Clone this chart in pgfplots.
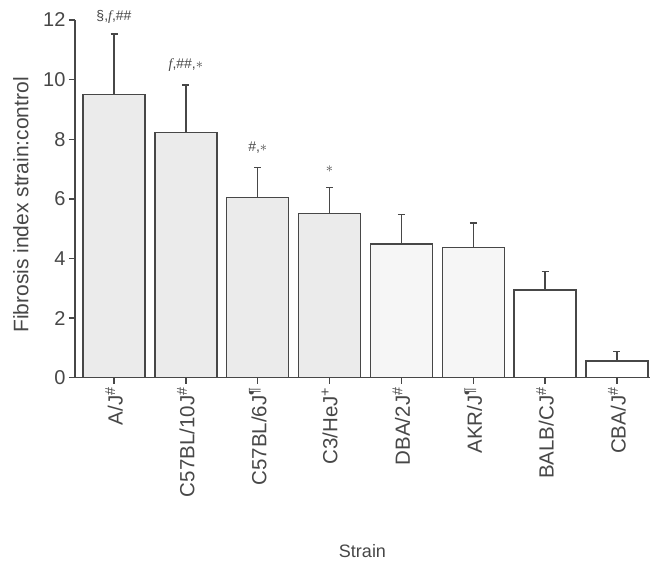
\documentclass[border=0pt]{standalone}
\usepackage{pgfplots}
\pgfplotsset{compat=1.18}
\usepackage{fontspec}
\setmainfont{Liberation Sans}
\newfontfamily\serif{Liberation Serif}
\definecolor{ink}{HTML}{474747}
\definecolor{stip}{HTML}{EBEBEB}
\definecolor{stipb}{HTML}{F6F6F6}
\begin{document}
\begin{tikzpicture}
\useasboundingbox (-75pt,-185.3pt) rectangle (581pt,377.7pt);
\begin{axis}[
  at={(0,0)}, anchor=south west,
  scale only axis, width=575pt, height=357.7pt,
  xmin=-0.543, xmax=7.46, ymin=0, ymax=12,
  axis x line=bottom, axis y line=left,
  axis line style={-, ink, line width=1.3pt},
  tick align=outside, major tick length=6pt,
  tick style={ink, line width=1.3pt},
  xtick={0,1,2,3,4,5,6,7},
  xticklabels={A/J\textsuperscript{\#},C57BL/10J\textsuperscript{\#},C57BL/6J\textsuperscript{¶},C3/HeJ\textsuperscript{+},DBA/2J\textsuperscript{\#},AKR/J\textsuperscript{¶},BALB/CJ\textsuperscript{\#},CBA/J\textsuperscript{\#}},
  x tick label style={rotate=90, anchor=east, font=\fontsize{20.5}{23}\selectfont, text=ink},
  ytick={0,2,4,6,8,10,12},
  y tick label style={font=\fontsize{20}{22}\selectfont, text=ink},
  /pgf/number format/assume math mode=true,
  xlabel={Strain},
  xlabel style={at={(axis description cs:0.5,-0.486)}, anchor=center, font=\fontsize{18}{20}\selectfont, text=ink},
  ylabel={Fibrosis index strain:control},
  ylabel style={at={(axis description cs:-0.094,0.483)}, anchor=center, font=\fontsize{21}{23}\selectfont, text=ink},
  ybar, bar width=62pt, bar shift=0pt,
  clip=false,
  error bars/y dir=plus, error bars/y explicit,
  error bars/error bar style={ink, line width=1.3pt},
  error bars/error mark options={rotate=90, ink, mark size=3.5pt, line width=1.3pt},
]
\addplot[draw=ink, line width=1.3pt, fill=stip] coordinates {
  (0,9.49) +- (0,2.04)
  (1,8.23) +- (0,1.59)
  (2,6.05) +- (0,1.00)
  (3,5.50) +- (0,0.88)
};
\addplot[draw=ink, line width=1.3pt, fill=stipb] coordinates {
  (4,4.49) +- (0,0.99)
  (5,4.37) +- (0,0.82)
};
\addplot[draw=ink, line width=1.3pt, fill=white] coordinates {
  (6,2.94) +- (0,0.62)
  (7,0.56) +- (0,0.31)
};
\node[text=ink, font=\fontsize{14}{16}\selectfont] at (axis cs:0,12.1) {§,{\serif\itshape f},\#\#};
\node[text=ink, font=\fontsize{14}{16}\selectfont] at (axis cs:1,10.49) {{\serif\itshape f},\#\#,$\ast$};
\node[text=ink, font=\fontsize{14}{16}\selectfont] at (axis cs:2,7.71) {\#,$\ast$};
\node[text=ink, font=\fontsize{14}{16}\selectfont] at (axis cs:3,7.0) {$\ast$};
\end{axis}
\end{tikzpicture}
\end{document}
